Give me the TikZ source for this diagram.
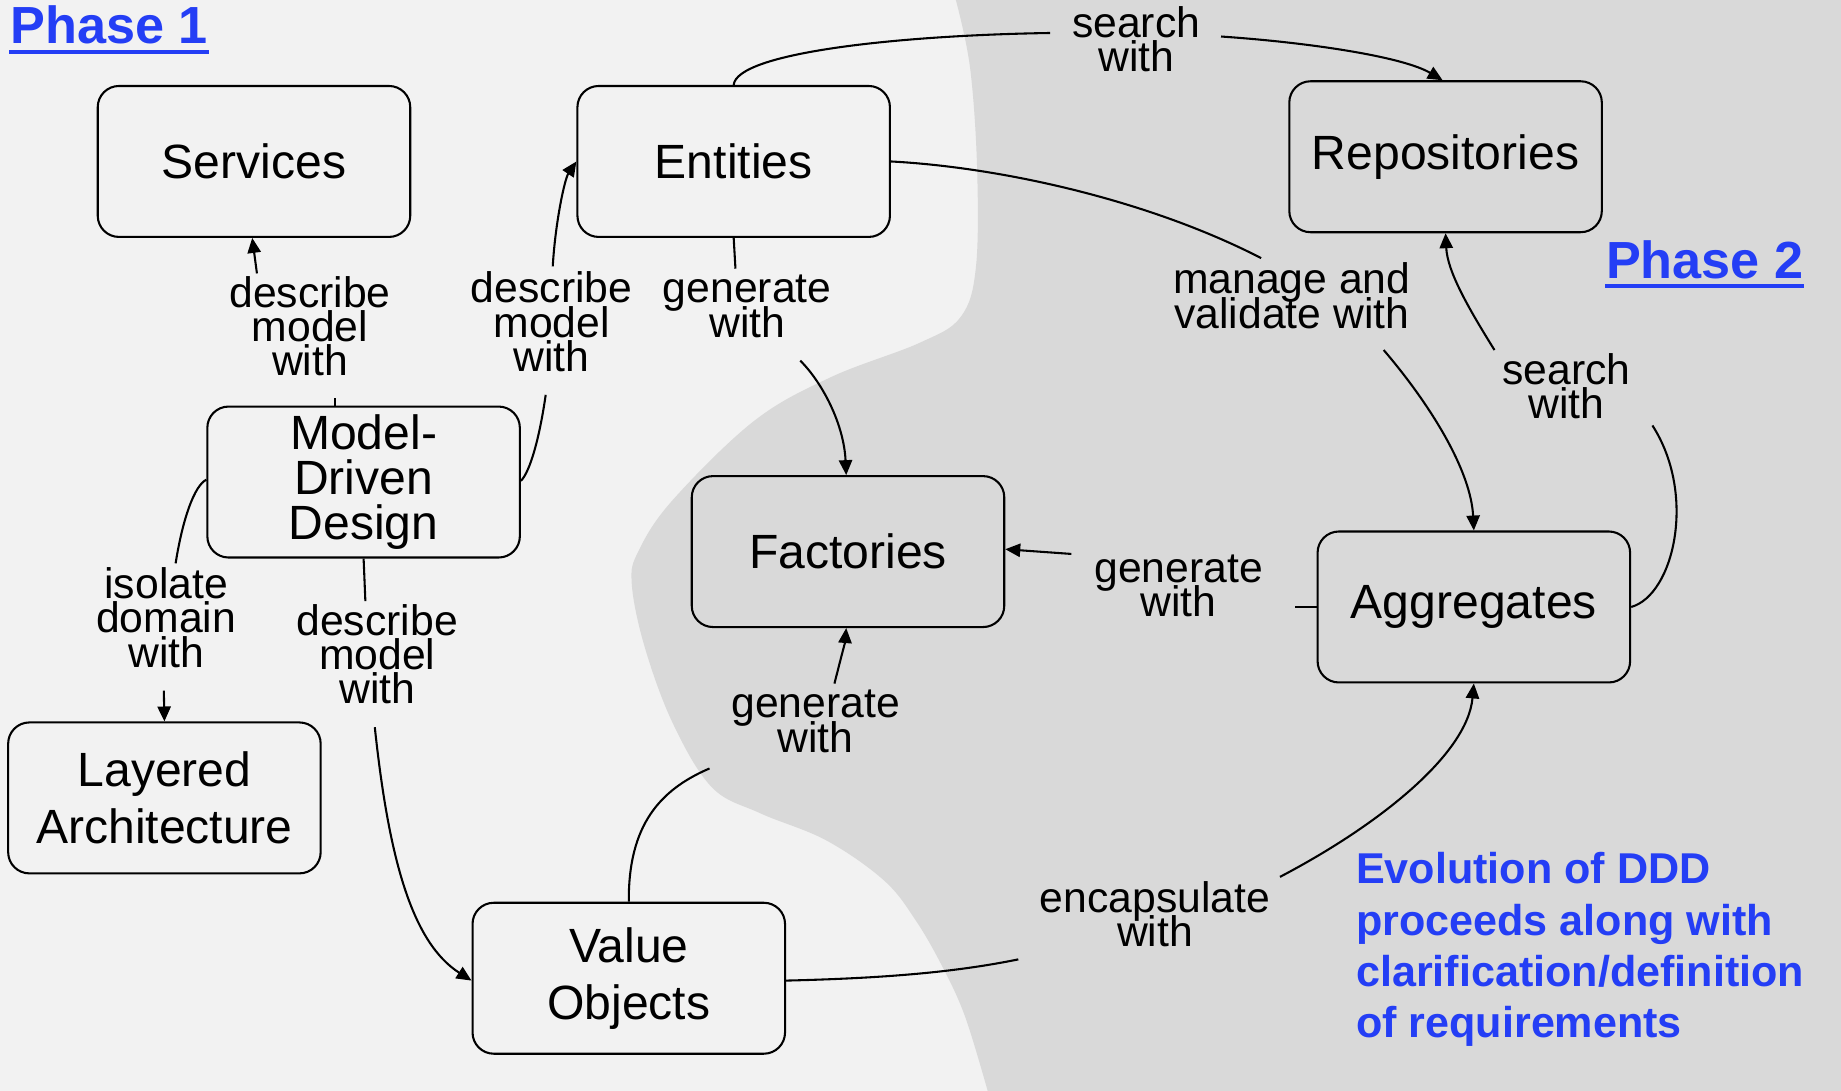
\documentclass[tikz,border=0pt]{standalone}
\usepackage{fontspec}
\setmainfont{Liberation Sans}
\usetikzlibrary{arrows.meta,calc}
\definecolor{bglight}{RGB}{242,242,242}
\definecolor{bgdark}{RGB}{217,217,217}
\definecolor{phaseblue}{RGB}{36,62,245}
\newcommand\mytightlines{\lineskiplimit=-20pt\relax}
\begin{document}
\begin{tikzpicture}[x=0.01cm, y=-0.01cm,
  box/.style={draw=black, line width=0.5pt, rounded corners=0.18cm, minimum width=2.65cm, minimum height=1.28cm, inner sep=0pt, align=center, font={\fontsize{11.6}{13.8}\selectfont}},
  lbl/.style={inner sep=0pt, align=center, font={\fontsize{10.3}{8.25}\selectfont\mytightlines}},
  link/.style={line width=0.5pt, draw=black},
  arr/.style={link, -{Triangle[length=3.6pt,width=3.2pt]}},
  phase/.style={inner sep=0pt, anchor=base west, text=phaseblue, font={\fontsize{12.6}{15}\selectfont\bfseries}}]
\useasboundingbox (0,0) rectangle (1562,925.6);
% background
\fill[bglight] (0,0) rectangle (1562,925.6);
\fill[bgdark] plot[smooth, tension=0.6] coordinates {(811,0) (823,57) (829,142) (828,227) (815,269) (780,291) (705,320) (640,357) (571,424) (542,467) (536,495) (547,549) (571,614) (604,668) (645,690) (701,713) (750,747) (777,781) (800,821) (819,863) (838,925.6)} -- (1562,925.6) -- (1562,0) -- cycle;

% nodes
\node[box] (serv) at (215.5,137) {Services};
\node[box] (ent) at (622.5,137) {Entities};
\node[box] (repo) at (1226.5,133) {Repositories};
\node[box, font={\fontsize{11.6}{10.95}\selectfont}] (mdd) at (308.5,409) {Model-\\Driven\\Design};
\node[box] (la) at (139.5,677) {Layered\\Architecture};
\node[box] (fac) at (719.5,468) {Factories};
\node[box] (agg) at (1250.5,515) {Aggregates};
\node[box] (vo) at (533.5,830) {Value\\Objects};

% labels
\node[lbl] (l1) at (263,277) {describe\\model\\with};
\node[lbl] (l2) at (468,273) {describe\\model\\with};
\node[lbl] (l3) at (634,260) {generate\\with};
\node[lbl] (l4) at (1096,251) {manage and\\validate with};
\node[lbl] (l5) at (964,33) {search\\with};
\node[lbl] (l6) at (1329,328) {search\\with};
\node[lbl] (l7) at (1000,497) {generate\\with};
\node[lbl] (l8) at (692,612) {generate\\with};
\node[lbl] (l9) at (980,776) {encapsulate\\with};
\node[lbl] (l10) at (141,524) {isolate\\domain\\with};
\node[lbl] (l11) at (320,555) {describe\\model\\with};

% gap ends of connectors
\coordinate (c1a) at (284,338);  \coordinate (c1b) at (218,232);
\coordinate (c2a) at (463,335);  \coordinate (c2b) at (469,226);
\coordinate (c3a) at (624,228);  \coordinate (c3b) at (679,306);
\coordinate (c4a) at (1070,219); \coordinate (c4b) at (1174,297);
\coordinate (c5a) at (891,28);   \coordinate (c5b) at (1036,31);
\coordinate (c6a) at (1402,361); \coordinate (c6b) at (1268,297);
\coordinate (c7a) at (1099,515); \coordinate (c7b) at (909,470);
\coordinate (c8a) at (602,652);  \coordinate (c8b) at (708,580);
\coordinate (c9a) at (864,814);  \coordinate (c9b) at (1086,744);
\coordinate (c10a) at (149,478); \coordinate (c10b) at (139,586);
\coordinate (c11a) at (310,510); \coordinate (c11b) at (318,617);

% connectors
\draw[link] ($(mdd.north)+(-24.5,0)$) -- (c1a);
\draw[arr] (c1b) -- ($(serv.south)+(-1.5,0)$);

\draw[link] ($(mdd.east)+(0,-1)$) .. controls (450,400) and (458,370) .. (c2a);
\draw[arr] (c2b) .. controls (471,190) and (479,152) .. (ent.west);

\draw[link] (ent.south) -- (c3a);
\draw[arr] (c3b) .. controls (698,325) and (716,360) .. ($(fac.north)+(-1.5,0)$);

\draw[link] (ent.east) .. controls (850,142) and (975,170) .. (c4a);
\draw[arr] (c4b) .. controls (1215,345) and (1248,400) .. (agg.north);

\draw[link] (ent.north) .. controls (625,45) and (760,30) .. (c5a);
\draw[arr] (c5b) .. controls (1110,36) and (1190,48) .. ($(repo.north)+(-2.5,0)$);

\draw[link] (agg.east) .. controls (1420,505) and (1440,420) .. (c6a);
\draw[arr] (c6b) .. controls (1245,260) and (1228,230) .. (repo.south);

\draw[link] (agg.west) -- (c7a);
\draw[arr] (c7b) -- ($(fac.east)+(0,-2)$);

\draw[link] (vo.north) .. controls (533,700) and (560,670) .. (c8a);
\draw[arr] (c8b) .. controls (713,560) and (717,545) .. ($(fac.south)+(-1.5,0)$);

\draw[link] ($(vo.east)+(0,2)$) .. controls (750,830) and (810,825) .. (c9a);
\draw[arr] (c9b) .. controls (1170,700) and (1245,640) .. (agg.south);

\draw[link] ($(mdd.west)+(0,-2)$) .. controls (165,412) and (155,440) .. (c10a);
\draw[arr] (c10b) -- (la.north);

\draw[link] (mdd.south) -- (c11a);
\draw[arr] (c11b) .. controls (330,730) and (350,800) .. ($(vo.west)+(0,2)$);

% phase titles
\node[phase] (p1) at (8,37) {Phase 1};
\draw[phaseblue, line width=1pt] ($(p1.base west)+(0,7)$) -- ($(p1.base east)+(0,7)$);
\node[phase] (p2) at (1362,236) {Phase 2};
\draw[phaseblue, line width=1pt] ($(p2.base west)+(0,7)$) -- ($(p2.base east)+(0,7)$);

% note
\node[inner sep=0pt, anchor=north west, align=left, text=phaseblue, font={\fontsize{10.4}{12.4}\selectfont\bfseries}] (note) at (1150,722.5) {Evolution of DDD\\proceeds along with\\clarification/definition\\of requirements};
\end{tikzpicture}
\end{document}
